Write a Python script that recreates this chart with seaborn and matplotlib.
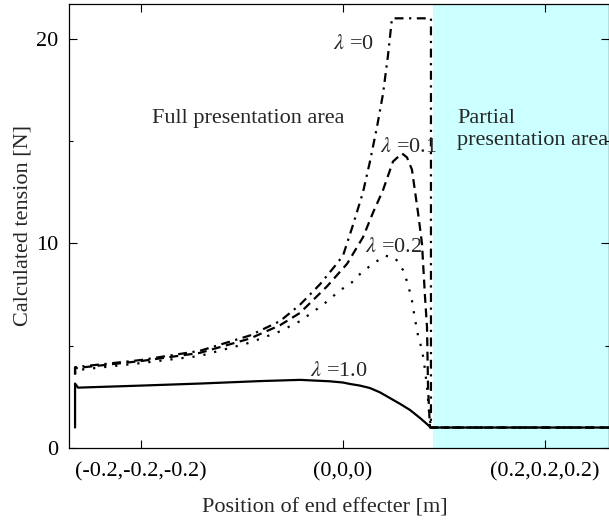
import matplotlib
matplotlib.use("Agg")
import matplotlib.pyplot as plt
import pandas as pd
import seaborn as sns

# x component of end effecter position along the path [m] and tension [N]
x_lam0 = [-0.2653, -0.2653, -0.2, -0.1416, -0.0921, -0.0624, -0.0426, -0.0228,
          -0.0079, 0.0, 0.0099, 0.0198, 0.0267, 0.0337, 0.0396, 0.0446, 0.0485,
          0.0871, 0.0871, 0.2634]
t_lam0 = [3.6, 3.95, 4.3, 4.75, 5.5, 6.2, 7.0, 8.0, 8.9, 9.4, 10.9, 12.5, 14.0,
          15.7, 17.3, 19.2, 21.0, 21.0, 1.0, 1.0]

x_lam01 = [-0.2653, -0.2653, -0.2, -0.1416, -0.0921, -0.0624, -0.0426, -0.0158,
           0.004, 0.0198, 0.0297, 0.0396, 0.0495, 0.0584, 0.0634, 0.0683, 0.0743,
           0.0782, 0.0812, 0.0832, 0.0842, 0.0861, 0.2634]
t_lam01 = [3.6, 3.9, 4.25, 4.65, 5.35, 6.0, 6.6, 7.9, 9.0, 10.3, 11.5, 12.6, 14.0,
           14.4, 14.2, 13.6, 11.5, 10.0, 7.4, 5.9, 3.0, 1.0, 1.0]

x_lam02 = [-0.2653, -0.2653, -0.2, -0.1416, -0.0921, -0.0624, -0.0426, -0.0198,
           -0.003, 0.0089, 0.0188, 0.0297, 0.0416, 0.0515, 0.0594, 0.0644, 0.0683,
           0.0713, 0.0743, 0.0782, 0.0802, 0.0832, 0.0851, 0.0871, 0.2634]
t_lam02 = [3.6, 3.8, 4.15, 4.5, 5.15, 5.7, 6.2, 7.0, 7.7, 8.1, 8.6, 9.0, 9.4, 9.3,
           8.7, 8.0, 7.2, 6.3, 5.5, 4.8, 4.2, 3.0, 1.8, 1.0, 1.0]

x_lam1 = [-0.2653, -0.2653, -0.2624, -0.2, -0.1416, -0.0822, -0.0426, -0.013, 0.0,
          0.0069, 0.0168, 0.0267, 0.0366, 0.0465, 0.0564, 0.0663, 0.0767, 0.0871,
          0.2634]
t_lam1 = [1.0, 3.15, 2.95, 3.05, 3.15, 3.27, 3.33, 3.26, 3.2, 3.13, 3.05, 2.93,
          2.72, 2.44, 2.16, 1.86, 1.45, 1.0, 1.0]

xtick_pos = [-0.2, 0.0, 0.2]
xtick_labels = ["(-0.2,-0.2,-0.2)", "(0,0,0)", "(0.2,0.2,0.2)"]
partial_start = 0.089

sns.set_style("ticks")
plt.rcParams["font.family"] = ["Liberation Serif", "DejaVu Serif"]
plt.rcParams["mathtext.fontset"] = "stix"
fs = 16

fig = plt.figure(figsize=(6.09, 5.2), dpi=100)
ax = fig.add_axes([69 / 609, 72 / 520, 540 / 609, 444 / 520])

ax.axvspan(partial_start, 0.3, color="#ccffff", lw=0, zorder=0)

curves = [
    (x_lam0, t_lam0, (0, (4, 2.5, 1, 2.5))),
    (x_lam01, t_lam01, (0, (4, 2.5))),
    (x_lam02, t_lam02, (0, (1, 4))),
    (x_lam1, t_lam1, "-"),
]
for xs, ts, ls in curves:
    df = pd.DataFrame({"x": xs, "t": ts})
    sns.lineplot(data=df, x="x", y="t", ax=ax, estimator=None, sort=False,
                 color="black", lw=1.6, linestyle=ls)

ax.set_xlim(-0.2713, 0.2634)
ax.set_ylim(0, 21.7)
ax.set_xticks(xtick_pos)
ax.set_xticklabels(xtick_labels)
ax.set_yticks([0, 10, 20])
ax.set_yticks([5, 15], minor=True)
ax.tick_params(axis="both", which="both", direction="in", top=True, right=True,
               colors="black", labelsize=fs)
ax.tick_params(axis="both", which="major", length=6, width=0.8)
ax.tick_params(axis="y", which="minor", length=3, width=0.8)
ax.tick_params(axis="x", pad=10)
ax.tick_params(axis="y", pad=8)
for s in ax.spines.values():
    s.set_color("black")
    s.set_linewidth(0.9)

ax.set_xlabel("Position of end effecter [m]", fontsize=fs, va="center")
ax.set_ylabel("Calculated tension [N]", fontsize=fs, va="center")
ax.xaxis.set_label_coords(0.473, -0.136)
ax.yaxis.set_label_coords(-0.086, 0.5)

ax.text(-0.189, 16.1, "Full presentation area", fontsize=fs, va="center")
ax.text(0.1129, 16.1, "Partial", fontsize=fs, va="center")
ax.text(0.1129, 15.05, "presentation area", fontsize=fs, va="center")
ax.text(-0.0099, 19.7, r"$\lambda$ =0", fontsize=fs, va="center")
ax.text(0.0366, 14.67, r"$\lambda$ =0.1", fontsize=fs, va="center")
ax.text(0.0218, 9.78, r"$\lambda$ =0.2", fontsize=fs, va="center")
ax.text(-0.0327, 3.72, r"$\lambda$ =1.0", fontsize=fs, va="center")

fig.savefig("out.png", dpi=100)
